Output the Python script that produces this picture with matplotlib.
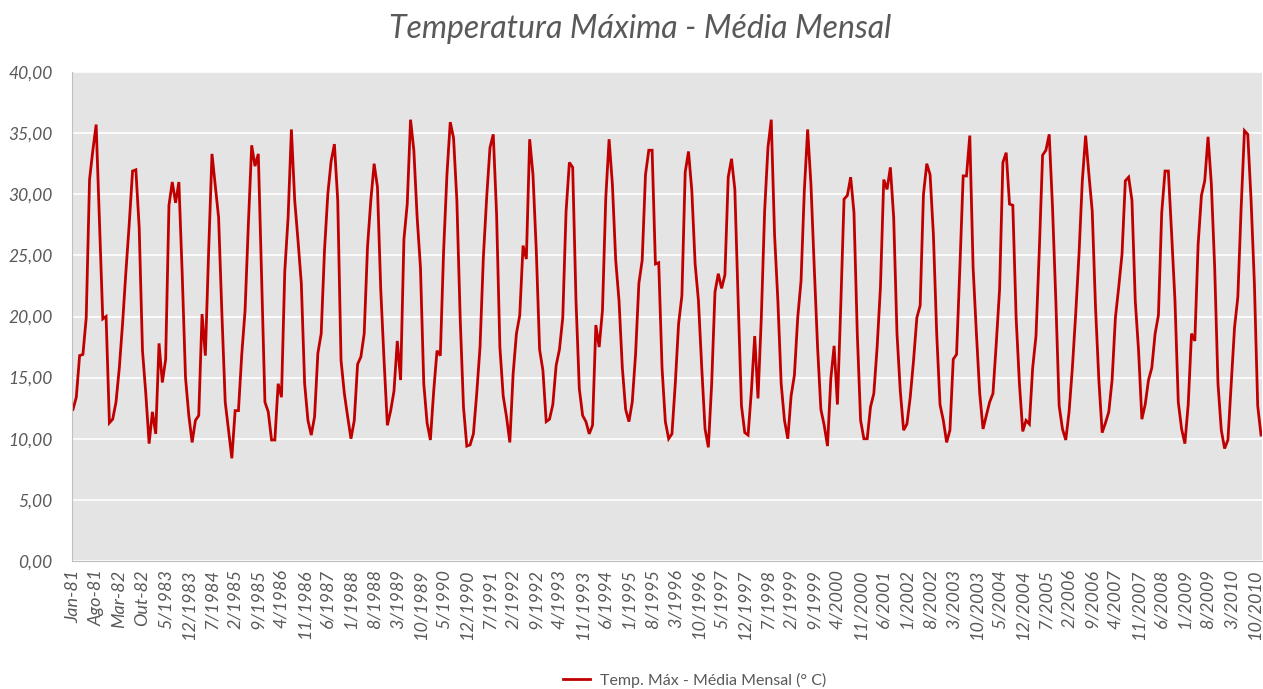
import numpy as np
import matplotlib.pyplot as plt
from matplotlib.ticker import FuncFormatter

# monthly means of daily maximum temperature (°C), Jan 1981 - Dec 2010
t1981 = [12.4, 13.4, 16.8, 16.9, 19.9, 31.2, 33.6, 35.7, 27.8, 19.8, 20.0, 11.3]
t1982 = [11.6, 13.0, 15.8, 19.5, 23.7, 27.6, 31.9, 32.0, 27.3, 17.2, 13.7, 9.6]
t1983 = [12.2, 10.4, 17.8, 14.6, 16.5, 29.1, 31.0, 29.3, 31.0, 23.5, 15.0, 11.9]
t1984 = [9.7, 11.5, 11.9, 20.2, 16.8, 25.4, 33.3, 30.7, 28.1, 20.2, 13.0, 10.7]
t1985 = [8.4, 12.3, 12.3, 16.9, 20.5, 27.6, 34.0, 32.3, 33.3, 23.2, 13.0, 12.2]
t1986 = [9.9, 9.9, 14.5, 13.4, 23.7, 28.1, 35.3, 29.5, 26.2, 22.7, 14.5, 11.5]
t1987 = [10.3, 11.8, 17.0, 18.6, 25.4, 30.0, 32.7, 34.1, 29.5, 16.4, 13.7, 11.8]
t1988 = [10.0, 11.5, 16.1, 16.7, 18.6, 25.7, 29.5, 32.5, 30.6, 22.2, 16.4, 11.1]
t1989 = [12.3, 13.9, 18.0, 14.8, 26.3, 29.2, 36.1, 33.6, 28.1, 24.0, 14.5, 11.3]
t1990 = [9.9, 13.9, 17.2, 16.8, 25.4, 31.6, 35.9, 34.6, 29.5, 19.9, 12.6, 9.4]
t1991 = [9.5, 10.4, 13.7, 17.5, 24.8, 29.7, 33.8, 34.9, 28.4, 17.5, 13.5, 11.8]
t1992 = [9.7, 15.3, 18.6, 20.1, 25.8, 24.7, 34.5, 31.6, 25.4, 17.3, 15.6, 11.4]
t1993 = [11.6, 12.8, 16.0, 17.3, 19.9, 28.6, 32.6, 32.2, 21.3, 14.1, 11.9, 11.4]
t1994 = [10.4, 11.1, 19.3, 17.5, 20.5, 29.7, 34.5, 30.8, 24.6, 21.3, 15.8, 12.4]
t1995 = [11.4, 13.0, 16.9, 22.7, 24.6, 31.6, 33.6, 33.6, 24.3, 24.4, 15.8, 11.4]
t1996 = [10.0, 10.4, 14.5, 19.4, 21.7, 31.8, 33.5, 30.3, 24.3, 21.3, 15.8, 10.8]
t1997 = [9.3, 14.5, 22.0, 23.5, 22.3, 23.4, 31.4, 32.9, 30.4, 21.3, 12.7, 10.5]
t1998 = [10.3, 13.9, 18.4, 13.3, 19.9, 28.6, 33.8, 36.1, 26.7, 21.3, 14.5, 11.5]
t1999 = [10.0, 13.5, 15.2, 19.9, 22.9, 30.3, 35.3, 30.8, 24.0, 17.5, 12.4, 11.1]
t2000 = [9.4, 14.9, 17.6, 12.8, 20.8, 29.6, 29.9, 31.4, 28.5, 18.6, 11.5, 10.0]
t2001 = [10.0, 12.6, 13.7, 17.5, 22.4, 31.2, 30.4, 32.2, 28.1, 18.6, 13.9, 10.7]
t2002 = [11.2, 13.4, 16.4, 19.9, 20.9, 30.0, 32.5, 31.6, 26.7, 18.6, 12.8, 11.5]
t2003 = [9.7, 10.7, 16.5, 16.9, 24.0, 31.5, 31.5, 34.8, 24.0, 18.6, 13.7, 10.8]
t2004 = [11.9, 13.0, 13.7, 17.8, 22.2, 32.6, 33.4, 29.2, 29.1, 19.9, 14.5, 10.6]
t2005 = [11.5, 11.2, 15.8, 18.4, 25.4, 33.2, 33.6, 34.9, 28.9, 21.3, 12.7, 10.8]
t2006 = [9.9, 12.2, 15.8, 20.2, 25.1, 31.1, 34.8, 31.6, 28.6, 20.7, 14.8, 10.5]
t2007 = [11.3, 12.2, 14.8, 19.9, 22.4, 25.1, 31.1, 31.4, 29.5, 21.3, 17.2, 11.6]
t2008 = [12.8, 14.8, 15.8, 18.6, 20.1, 28.5, 31.9, 31.9, 26.7, 21.3, 13.0, 10.8]
t2009 = [9.6, 12.8, 18.6, 18.0, 25.9, 29.9, 31.1, 34.7, 30.8, 24.0, 14.5, 10.7]
t2010 = [9.2, 9.9, 14.5, 19.1, 21.6, 28.9, 35.2, 34.9, 29.5, 22.7, 12.7, 10.3]

temps = (t1981 + t1982 + t1983 + t1984 + t1985 + t1986 + t1987 + t1988
         + t1989 + t1990 + t1991 + t1992 + t1993 + t1994 + t1995 + t1996
         + t1997 + t1998 + t1999 + t2000 + t2001 + t2002 + t2003 + t2004
         + t2005 + t2006 + t2007 + t2008 + t2009 + t2010)

# every 7th month gets a label
tick_labels = ['Jan-81', 'Ago-81', 'Mar-82', 'Out-82', '5/1983', '12/1983',
               '7/1984', '2/1985', '9/1985', '4/1986', '11/1986', '6/1987',
               '1/1988', '8/1988', '3/1989', '10/1989', '5/1990', '12/1990',
               '7/1991', '2/1992', '9/1992', '4/1993', '11/1993', '6/1994',
               '1/1995', '8/1995', '3/1996', '10/1996', '5/1997', '12/1997',
               '7/1998', '2/1999', '9/1999', '4/2000', '11/2000', '6/2001',
               '1/2002', '8/2002', '3/2003', '10/2003', '5/2004', '12/2004',
               '7/2005', '2/2006', '9/2006', '4/2007', '11/2007', '6/2008',
               '1/2009', '8/2009', '3/2010', '10/2010']

plt.rcParams['font.family'] = ['Lato', 'DejaVu Sans']
grey = '#595959'

fig = plt.figure(figsize=(12.63, 6.89), dpi=100)
ax = fig.add_axes([72 / 1263, 1 - 561 / 689, 1190 / 1263, 489 / 689])
ax.set_facecolor('#E4E4E4')

x = np.arange(len(temps))
line, = ax.plot(x, temps, color='#C00000', lw=2.0, solid_joinstyle='miter')

ax.set_xlim(-0.3, len(temps) - 0.7)
ax.set_ylim(0, 40)
ax.set_yticks(np.arange(0, 41, 5))
ax.yaxis.set_major_formatter(FuncFormatter(lambda v, p: f'{v:.2f}'.replace('.', ',')))
ax.set_xticks(x[::7])
ax.set_xticklabels(tick_labels, rotation=90)

ax.grid(axis='y', color='white', lw=1.2)
ax.set_axisbelow(True)
for s in ['top', 'right']:
    ax.spines[s].set_visible(False)
for s in ['left', 'bottom']:
    ax.spines[s].set_color('#BFBFBF')
    ax.spines[s].set_linewidth(0.8)

ax.tick_params(axis='y', length=0, colors=grey, labelsize=12.5, pad=14)
ax.tick_params(axis='x', length=0, colors=grey, labelsize=13, pad=6)
for lbl in ax.get_xticklabels() + ax.get_yticklabels():
    lbl.set_style('italic')

fig.text(0.507, 0.958, 'Temperatura Máxima - Média Mensal', ha='center', va='center',
         fontsize=23, style='italic', color=grey)

fig.legend([line], ['Temp. Máx - Média Mensal (° C)'], loc='center',
           bbox_to_anchor=(0.55, 0.013), frameon=False, fontsize=11.5,
           labelcolor=grey, handlelength=1.7, handletextpad=0.6)

fig.savefig('out.png', dpi=100)
